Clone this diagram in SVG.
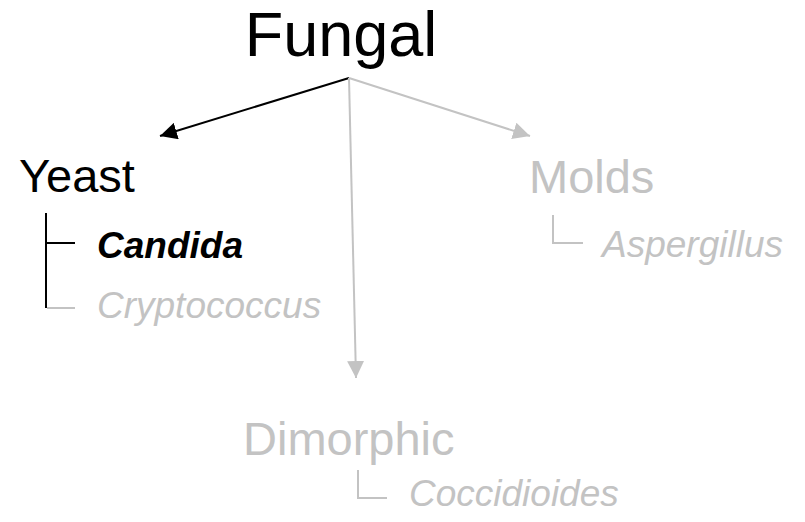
<svg xmlns="http://www.w3.org/2000/svg" width="805" height="522" viewBox="0 0 805 522">
<style>
text{font-family:"Liberation Sans",Arial,sans-serif}
.k{fill:#000}
.g{fill:#c3c3c3}
.h1{font-size:63px}
.h2{font-size:47px}
.it{font-size:37px;font-style:italic}
.b{font-weight:bold}
.lk{stroke:#000;stroke-width:2;fill:none}
.lg{stroke:#c3c3c3;stroke-width:2;fill:none}
</style>
<defs>
<marker id="ak" viewBox="0 0 10 10" refX="10" refY="5" markerWidth="17" markerHeight="17" markerUnits="userSpaceOnUse" orient="auto"><path d="M0,0 L10,5 L0,10 z" fill="#000"/></marker>
<marker id="ag" viewBox="0 0 10 10" refX="10" refY="5" markerWidth="17" markerHeight="17" markerUnits="userSpaceOnUse" orient="auto"><path d="M0,0 L10,5 L0,10 z" fill="#c3c3c3"/></marker>
</defs>
<rect width="805" height="522" fill="#fff"/>
<g id="connectors">
<line class="lk" x1="349" y1="78" x2="160" y2="136" marker-end="url(#ak)"/>
<line class="lg" x1="349" y1="78" x2="530" y2="136" marker-end="url(#ag)"/>
<line class="lg" x1="349" y1="78" x2="356" y2="378" marker-end="url(#ag)"/>
</g>
<g id="fungal"><text class="k h1" x="341" y="56" text-anchor="middle">Fungal</text></g>
<g id="yeast">
<text class="k h2" x="19" y="192">Yeast</text>
<path class="lk" d="M46,213 V308"/>
<path class="lk" d="M46,243 H75"/>
<path class="lg" d="M47,308 H75"/>
</g>
<g id="candida"><text class="k it b" x="97" y="258">Candida</text></g>
<g id="cryptococcus"><text class="g it" x="97" y="318">Cryptococcus</text></g>
<g id="molds">
<text class="g h2" x="529" y="193">Molds</text>
<path class="lg" d="M553,215 V243 H583"/>
</g>
<g id="aspergillus"><text class="g it" x="602" y="257">Aspergillus</text></g>
<g id="dimorphic">
<text class="g h2" x="243" y="455">Dimorphic</text>
<path class="lg" d="M358,470 V498 H387"/>
</g>
<g id="coccidioides"><text class="g it" x="409" y="506">Coccidioides</text></g>
</svg>
